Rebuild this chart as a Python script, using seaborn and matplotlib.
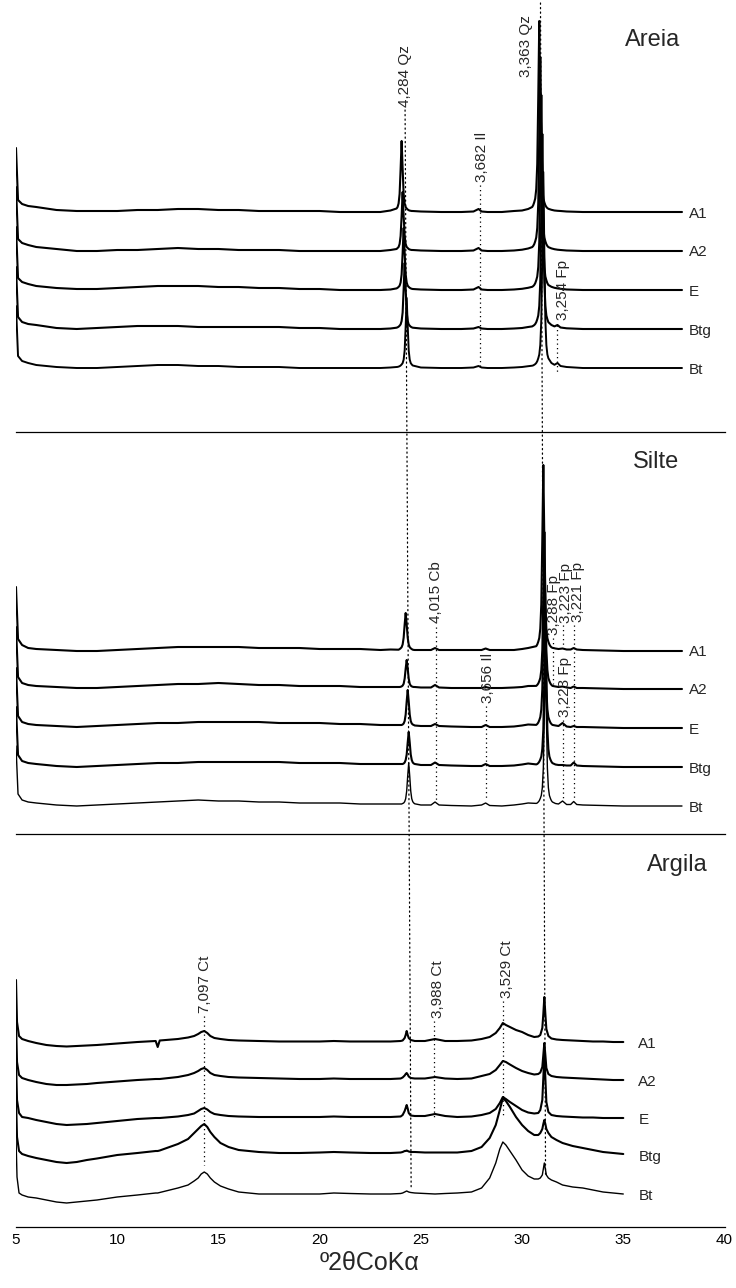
import numpy as np
import pandas as pd
import matplotlib
matplotlib.use("Agg")
import matplotlib.pyplot as plt
import seaborn as sns
from matplotlib.patches import ConnectionPatch

# ---------------------------------------------------------------- data
SAMPLES = ["A1", "A2", "E", "Btg", "Bt"]

# ---- Areia (sand) : 2-theta grid and intensities (relative, above each baseline)
AREIA_X = ([5.0, 5.1, 5.3, 5.6, 6.0, 7.0, 8.0, 9.0, 10.0, 11.0, 12.0, 13.0, 14.0, 15.0,
            16.0, 17.0, 18.0, 19.0, 20.0, 21.0, 22.0, 23.0, 23.5]
           + [23.8, 23.85, 23.9, 23.95, 24.0, 24.05, 24.1, 24.15, 24.2, 24.25, 24.3, 24.35,
              24.4, 24.45, 24.5, 24.55, 24.6]
           + [25.0, 26.0, 27.0, 27.6, 27.85, 28.0, 28.3, 29.0, 29.6, 30.0, 30.3]
           + [30.5, 30.55, 30.6, 30.65, 30.7, 30.75, 30.8, 30.85, 30.9, 30.95, 31.0, 31.05,
              31.1, 31.15, 31.2, 31.25, 31.3]
           + [31.45, 31.6, 31.75, 31.9, 32.2, 33.0, 34.0, 35.0, 36.0, 37.0, 37.9])
AREIA_A1 = ([64, 12, 8, 6, 5, 2, 1, 1, 1, 2, 2, 3, 3, 2, 2, 1, 1, 1, 1, 0, 0, 0, 1.5]
            + [3.5, 5, 8.5, 18, 43, 71, 43, 18, 8.5, 5, 3.5, 2.5, 1.8, 1.4, 1.2, 1, 1]
            + [0.5, 0, 0, 0.5, 3, 0.5, 0, 0, 1, 1.5, 3]
            + [5, 6.8, 9.7, 13.5, 23, 48, 115, 191, 115, 48, 23, 13.5, 9.7, 6.8, 5, 3.9, 3.2]
            + [2.2, 1.5, 1.2, 1, 0.5, 0, 0, 0, 0, 0, 0])
AREIA_A2 = ([64, 12, 8, 6, 4, 2, 0, 0, 1, 1, 2, 3, 2, 2, 1, 1, 1, 0, 0, 0, 0, 0, 1]
            + [2, 3, 4, 7, 15, 35, 59, 35, 15, 7, 4, 3, 2, 1.5, 1.2, 1, 1]
            + [0.5, 0, 0, 0.5, 3, 0.5, 0, 0, 0.5, 1.3, 2.5]
            + [3.9, 5, 6.8, 9.7, 13.5, 23, 48, 116, 194, 116, 48, 23, 13.5, 9.7, 6.8, 5, 3.9]
            + [2.6, 1.8, 1.3, 1, 0.5, 0, 0, 0, 0, 0, 0])
AREIA_E = ([63, 12, 8, 6, 4, 2, 1, 1, 2, 3, 4, 4, 4, 3, 3, 2, 2, 1, 1, 0, 0, 0, 0.5]
           + [1.6, 2.2, 3.1, 4.3, 7.5, 15.5, 37, 62, 37, 15.5, 7.5, 4.3, 3.1, 2.2, 1.6, 1.2, 1]
           + [0.5, 0, 0, 0.5, 3, 0.5, 0, 0, 0.5, 1.2, 2.2]
           + [3.2, 3.9, 5, 6.8, 9.7, 13.5, 23, 48, 117, 195, 117, 48, 23, 13.5, 9.7, 6.8, 5]
           + [3.2, 2.2, 1.6, 1.2, 0.5, 0, 0, 0, 0, 0, 0])
AREIA_BTG = ([62, 12, 7, 5, 4, 1, 0, 1, 2, 3, 3, 3, 2, 2, 2, 2, 2, 1, 1, 0, 0, 0, 0.5]
             + [1.3, 1.7, 2.3, 3.3, 4.6, 8, 16.5, 40, 66, 40, 16.5, 8, 4.6, 3.3, 2.3, 1.7, 1.3]
             + [0.5, 0, 0, 0.5, 2, 0.5, 0, 0, 0.5, 1, 2]
             + [2.6, 3.2, 3.9, 5, 6.8, 9.7, 13.5, 23, 48, 117, 195, 117, 48, 23, 13.5, 9.7, 6.8]
             + [4, 2.6, 4, 1.5, 0.7, 0, 0, 0, 0, 0, 0])
AREIA_BT = ([62, 12, 7, 5, 3, 1, 0, 0, 1, 2, 3, 3, 2, 2, 1, 1, 1, 0, 0, 0, 0, 0, 0.5]
            + [1, 1.1, 1.4, 1.8, 2.5, 3.5, 4.9, 8.4, 17.5, 42, 70, 42, 17.5, 8.4, 4.9, 3.5, 2.5]
            + [0.5, 0, 0, 0.5, 2, 0.5, 0, 0, 0.5, 1, 1.8]
            + [2.3, 2.6, 3.2, 3.9, 5, 6.8, 9.7, 13.5, 23, 48, 117, 196, 117, 48, 23, 13.5, 9.7]
            + [5, 3.2, 5, 2, 1, 0, 0, 0, 0, 0, 0])

# ---- Silte (silt)
SILTE_X = ([5.0, 5.1, 5.3, 5.6, 6.0, 7.0, 8.0, 9.0, 10.0, 11.0, 12.0, 13.0, 14.0, 15.0,
            16.0, 17.0, 18.0, 19.0, 20.0, 21.0, 22.0, 23.0, 23.5]
           + [23.9, 23.95, 24.0, 24.05, 24.1, 24.15, 24.2, 24.25, 24.3, 24.35, 24.4, 24.45,
              24.5, 24.55, 24.6, 24.65, 24.7]
           + [25.0, 25.5, 25.7, 25.9, 26.5, 27.5, 28.0, 28.2, 28.4, 29.0, 29.6, 30.0, 30.3]
           + [30.7, 30.75, 30.8, 30.85, 30.9, 30.95, 31.0, 31.05, 31.1, 31.15, 31.2, 31.25,
              31.3, 31.35, 31.4, 31.45, 31.5]
           + [31.65, 31.8, 32.0, 32.2, 32.4, 32.55, 32.7, 33.0, 34.0, 35.0, 36.0, 37.0, 37.9])
SILTE_A1 = ([64, 12, 6, 3, 2, 1, 0, 0, 1, 2, 3, 4, 4, 4, 4, 3, 3, 3, 2, 2, 2, 1, 1.5]
            + [1.3, 1.9, 2.7, 3.8, 6.5, 13.3, 26.6, 38, 26.6, 13.3, 6.5, 3.8, 2.7, 1.9, 1.3, 1.1, 1]
            + [1, 1, 3, 1, 1, 1, 1, 2.5, 1, 1, 1, 2, 3]
            + [4.8, 6.5, 9.3, 13, 22.3, 46.5, 112, 186, 112, 46.5, 22.3, 13, 9.3, 6.5, 4.8, 3.7, 3.2]
            + [2.5, 2, 2.5, 1.5, 1.5, 3, 1.5, 1, 0.5, 0, 0, 0, 0])
SILTE_A2 = ([62, 12, 6, 4, 3, 2, 1, 1, 2, 3, 4, 5, 5, 6, 5, 4, 4, 3, 3, 3, 2, 2, 2]
            + [2, 2, 2.2, 2.6, 3.4, 5.2, 10.4, 20.4, 29, 20.4, 10.4, 5.2, 3.4, 2.6, 2.2, 2, 2]
            + [1.5, 1.5, 4, 1.5, 1, 1, 1, 2, 1, 1, 1.5, 2, 3]
            + [3.1, 4.1, 5.5, 7.9, 11, 19, 39, 94, 157, 94, 39, 19, 11, 7.9, 5.5, 4.1, 3.1]
            + [2.5, 2, 2.5, 1.5, 1, 2.5, 1, 1, 0.5, 0, 0, 0, 0])
SILTE_E = ([60, 12, 6, 4, 3, 2, 1, 2, 3, 4, 5, 5, 6, 6, 6, 6, 5, 5, 5, 4, 4, 3, 3]
           + [3, 3, 3, 3, 3.5, 4.5, 7, 13.5, 26.6, 38, 26.6, 13.5, 7, 4.5, 3.5, 3, 2.5]
           + [2, 2, 4, 2, 1.5, 1, 1, 3, 1, 1, 1.5, 2.5, 3.5]
           + [3.1, 4, 5.4, 7.8, 10.9, 18.6, 38.8, 93, 155, 93, 38.8, 18.6, 10.9, 7.8, 5.4, 4, 3.1]
           + [2.5, 2, 5, 1.5, 1, 2, 1, 1, 0.5, 0, 0, 0, 0])
SILTE_BTG = ([60, 12, 6, 4, 3, 1, 0, 1, 2, 3, 4, 4, 5, 5, 5, 5, 5, 4, 4, 4, 3, 3, 3]
             + [3, 3, 3, 3, 3, 3.5, 4.5, 7, 12.5, 24.5, 35, 24.5, 12.5, 7, 4.5, 3.5, 3]
             + [2, 2, 4.5, 2, 1.5, 1, 1, 3, 1, 1, 1.5, 2.5, 3.5]
             + [2.6, 3, 3.9, 5.3, 7.5, 10.5, 18, 37.5, 90, 150, 90, 37.5, 18, 10.5, 7.5, 5.3, 3.9]
             + [2.5, 2, 2, 1.5, 1.5, 4.5, 1.5, 1, 0.5, 0, 0, 0, 0])
SILTE_BT = ([60, 12, 6, 4, 3, 1, 0, 1, 2, 3, 4, 5, 6, 5, 5, 4, 4, 3, 3, 3, 2, 2, 2]
            + [2, 2, 2, 2, 2.5, 3, 4.3, 7.3, 15, 30, 43, 30, 15, 7.3, 4.3, 3, 2.2]
            + [1, 1, 4, 1, 0.5, 0, 1, 3, 0.5, 0, 1, 2, 3]
            + [2.6, 3, 4, 5.3, 7.6, 10.6, 18.2, 38, 91, 152, 91, 38, 18.2, 10.6, 7.6, 5.3, 4]
            + [2.5, 2, 5, 1.5, 1.5, 4.5, 1.5, 1, 0.5, 0, 0, 0, 0])

# ---- Argila (clay)
ARGILA_X = [5.0, 5.05, 5.15, 5.3, 5.6, 6.0, 6.5, 7.0, 7.5, 8.0,
            8.5, 9.0, 10.0, 11.0, 11.9, 12.0, 12.1, 13.0, 13.5, 13.8,
            14.0, 14.15, 14.3, 14.45, 14.6, 14.8, 15.1, 15.5, 16.0, 17.0,
            18.0, 19.0, 20.0, 20.7, 21.5, 22.5, 23.5, 24.0, 24.1, 24.2,
            24.25, 24.3, 24.35, 24.4, 24.5, 24.7, 25.2, 25.7, 26.2, 26.8,
            27.5, 28.0, 28.4, 28.7, 28.9, 29.05, 29.2, 29.4, 29.7, 30.0,
            30.3, 30.6, 30.8, 30.9, 31.0, 31.05, 31.1, 31.15, 31.2, 31.3,
            31.45, 31.7, 32.0, 32.5, 33.0, 33.5, 34.0, 34.5, 35.0]
ARGILA_A1 = [62, 20, 6, 3, 1, -1, -3, -4, -4.5, -4,
             -3.5, -3, -1.5, 0, 1, -5, 1.5, 3, 4.5, 6,
             8, 10, 11, 9, 6, 4, 3, 2, 1.5, 1,
             0.5, 0.5, 0.5, 1, 0.5, 0.5, 0.5, 1, 1.5, 4,
             7, 11, 7, 4, 2, 1, 1, 3, 1, 1,
             1.5, 3, 5, 9, 14, 19, 17, 15, 12, 10,
             7, 5, 5.5, 7, 14, 28, 45, 28, 13, 6,
             3.5, 2.5, 2, 1.5, 1, 0.5, 0.5, 0, 0]
ARGILA_A2 = [60, 18, 5, 2, 0, -2, -4, -5, -5, -4.5,
             -4, -3, -1.5, 0, 1, 1, 1, 3, 5, 7,
             9, 11, 12, 10, 7, 5, 4, 3, 2.5, 2,
             1.5, 1, 1, 1.5, 1, 1, 1, 1.5, 2.5, 4.5,
             6, 7, 5.5, 3.5, 2, 1.5, 1.5, 3, 1.5, 1,
             1.5, 4, 6, 10, 15, 19, 18, 15.5, 12, 9,
             7, 5.5, 6, 7.5, 13, 25, 37, 25, 12, 6,
             4, 3, 2.5, 2, 1.5, 1, 0.5, 0, 0]
ARGILA_E = [59, 18, 5, 1, 0, -2, -4, -6, -7, -6.5,
            -6, -5, -3, -1, 0, 0, 0, 1.5, 3, 4.5,
            7, 9, 10, 8.5, 6, 4, 3, 2, 1.5, 1,
            1, 1, 1, 1.5, 1, 1, 1, 1.5, 3, 7,
            10, 13, 9.5, 5, 2.5, 2, 2, 4, 2, 1,
            1.5, 3, 5, 9, 15, 21, 19, 16, 12, 8,
            5.5, 4.5, 5, 8, 18, 40, 65, 40, 16, 6,
            3, 2, 1.5, 1, 0.5, 0.5, 0, 0, 0]
ARGILA_BTG = [58, 18, 4, 1, -1, -3, -5, -7, -8, -7,
              -5, -3.5, 0, 2, 4, 4, 4.5, 11, 16, 22,
              26, 29, 31, 28, 23, 18, 12, 8, 5, 3,
              2, 2, 2.5, 3, 2.5, 2, 2, 2.5, 3, 4,
              4, 4.5, 4, 3.5, 3, 3, 2.5, 2.5, 2.5, 2.5,
              4, 8, 17, 30, 45, 57, 54, 48, 38, 30,
              24, 20, 20, 22, 26, 31, 35, 31, 26, 22,
              18, 15, 12, 9, 7, 5, 3, 2, 1]
ARGILA_BT = [58, 18, 2, 0, -2, -3, -5, -7, -8, -7,
             -6, -5, -2, 0, 2, 2, 2.5, 7, 10, 14,
             17, 21, 23, 21, 17, 13, 9, 6, 3, 1,
             1, 1, 1, 2, 1.5, 1, 1, 1.5, 2, 3,
             3.5, 4, 3.5, 3, 2.5, 2, 1.5, 1, 1.5, 2,
             3, 7, 17, 32, 46, 53, 50, 44, 35, 25,
             19, 16, 16, 17, 20, 26, 32, 26, 20, 17,
             15, 13, 10, 8, 7, 5, 3, 2, 1]

# ---- peak annotations (d-spacing + mineral), positions in 2-theta
AREIA_PEAK_TEXT = ["4,284 Qz", "3,363 Qz", "3,682 Il", "3,254 Fp"]
AREIA_PEAK_TX = [24.22, 30.2, 28.0, 32.02]
AREIA_PEAK_TY = [325, 355, 250, 112]
AREIA_REF_X = [27.9, 31.75]
AREIA_REF_TOP = [247, 107]
AREIA_REF_BOT = [66, 60]

SILTE_PEAK_TEXT = ["4,015 Cb", "3,656 Il", "3,288 Fp", "3,223 Fp", "3,221 Fp", "3,223 Fp"]
SILTE_PEAK_TX = [25.75, 28.32, 31.58, 32.17, 32.77, 32.12]
SILTE_PEAK_TY = [211, 131, 199, 211, 212, 117]
SILTE_REF_X = [25.73, 28.2, 31.55, 32.0, 32.0, 32.55]
SILTE_REF_TOP = [207, 128, 196, 209, 114, 209]
SILTE_REF_BOT = [34, 34, 150, 186, 34, 34]

ARGILA_PEAK_TEXT = ["7,097 Ct", "3,988 Ct", "3,529 Ct"]
ARGILA_PEAK_TX = [14.34, 25.85, 29.26]
ARGILA_PEAK_TY = [214, 209, 229]
ARGILA_REF_X = [14.28, 25.63, 29.04]
ARGILA_REF_TOP = [211, 206, 226]
ARGILA_REF_BOT = [62, 110, 109]

X_TICKS = [5, 10, 15, 20, 25, 30, 35, 40]
X_LABEL = "º2θCoKα"

# ---------------------------------------------------------------- style
sns.set_style("white")
plt.rcParams["font.family"] = ["Liberation Sans", "DejaVu Sans"]

W, H = 736, 1288
fig = plt.figure(figsize=(W / 100, H / 100), dpi=100)
X0, X1 = 16, 724.5
DOT = (0, (1, 2.6))


def make_axes(top_px, bottom_px):
    return fig.add_axes([X0 / W, 1 - bottom_px / H, (X1 - X0) / W, (bottom_px - top_px) / H])


def draw_panel(ax, x, traces, offsets, height, label_x, widths, title, title_x, title_y,
               ptext, ptx, pty, rx, rtop, rbot, ticklabels):
    for name, vals, off, lw in zip(SAMPLES, traces, offsets, widths):
        df = pd.DataFrame({"two_theta": x, "intensity": np.asarray(vals, float) + off})
        sns.lineplot(data=df, x="two_theta", y="intensity", ax=ax, color="black",
                     lw=lw, estimator=None, sort=False)
        ax.text(label_x, off, name, fontsize=11, ha="left", va="center_baseline")
    for t, tx, ty in zip(ptext, ptx, pty):
        ax.text(tx, ty, t, rotation=90, fontsize=11, ha="center", va="bottom")
    for xx, y0, y1 in zip(rx, rtop, rbot):
        ax.plot([xx, xx], [y0, y1], color="black", lw=0.9, ls=DOT)
    ax.text(title_x, title_y, title, fontsize=17, ha="right", va="center")
    ax.set_xlim(5, 40)
    ax.set_ylim(0, height)
    ax.set_xticks(X_TICKS)
    ax.set_yticks([])
    ax.set_xlabel("")
    ax.set_ylabel("")
    for s in ["left", "right", "top"]:
        ax.spines[s].set_visible(False)
    ax.spines["bottom"].set_color("black")
    ax.spines["bottom"].set_linewidth(0.9)
    ax.tick_params(axis="x", direction="in", length=4.3, width=0.9, colors="black",
                   labelsize=11, pad=4, labelbottom=ticklabels)
    ax.patch.set_alpha(0)


ax1 = make_axes(0, 432)
ax2 = make_axes(432, 834)
ax3 = make_axes(834, 1227)

draw_panel(ax1, AREIA_X, [AREIA_A1, AREIA_A2, AREIA_E, AREIA_BTG, AREIA_BT],
           [220, 181, 142, 103, 64], 432, 38.25, [1.5, 1.5, 1.5, 1.5, 1.4],
           "Areia", 37.8, 392, AREIA_PEAK_TEXT, AREIA_PEAK_TX, AREIA_PEAK_TY,
           AREIA_REF_X, AREIA_REF_TOP, AREIA_REF_BOT, False)
draw_panel(ax2, SILTE_X, [SILTE_A1, SILTE_A2, SILTE_E, SILTE_BTG, SILTE_BT],
           [183, 145, 106, 67, 28], 402, 38.25, [1.5, 1.5, 1.5, 1.5, 1.0],
           "Silte", 37.76, 372, SILTE_PEAK_TEXT, SILTE_PEAK_TX, SILTE_PEAK_TY,
           SILTE_REF_X, SILTE_REF_TOP, SILTE_REF_BOT, False)
draw_panel(ax3, ARGILA_X, [ARGILA_A1, ARGILA_A2, ARGILA_E, ARGILA_BTG, ARGILA_BT],
           [185, 147, 109, 72, 32], 393, 35.75, [1.5, 1.5, 1.5, 1.5, 1.0],
           "Argila", 39.19, 362, ARGILA_PEAK_TEXT, ARGILA_PEAK_TX, ARGILA_PEAK_TY,
           ARGILA_REF_X, ARGILA_REF_TOP, ARGILA_REF_BOT, True)

# long reference lines crossing the three panels (quartz peaks)
for (xa, ya), (xb, yb) in [((24.22, 322), (24.52, 39)), ((30.91, 429), (31.16, 52))]:
    con = ConnectionPatch(xyA=(xa, ya), coordsA=ax1.transData,
                          xyB=(xb, yb), coordsB=ax3.transData,
                          color="black", lw=0.9, linestyle=DOT)
    fig.add_artist(con)

fig.text(370 / W, 1 - 1263 / H, X_LABEL, fontsize=18, ha="center", va="center")

fig.savefig("out.png", dpi=100)
